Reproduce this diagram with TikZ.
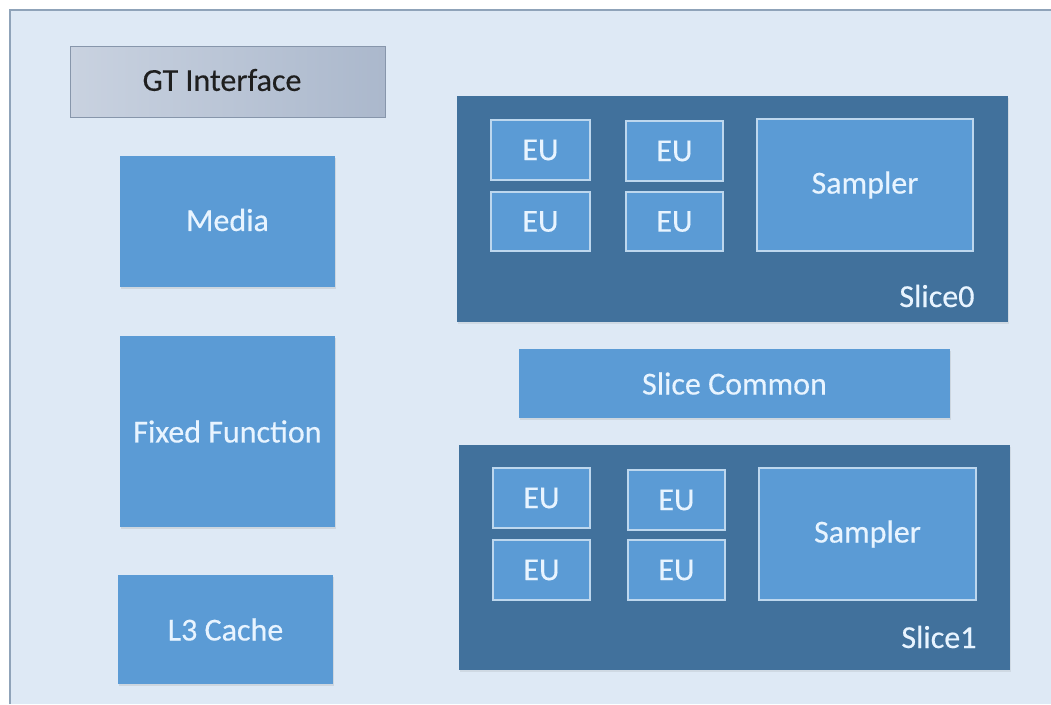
\documentclass[tikz,border=0pt]{standalone}
\usepackage{fontspec}
\setmainfont{Carlito}
\newfontfamily\lblfont{Carlito}[FakeBold=0.35]
\usetikzlibrary{shadows}
\definecolor{bgpanel}{HTML}{DEE9F5}
\definecolor{panelline}{HTML}{8FA3B9}
\definecolor{blockblue}{HTML}{5B9BD5}
\definecolor{slicedark}{HTML}{41719C}
\definecolor{eurim}{HTML}{BDD7EE}
\definecolor{lighttext}{HTML}{E8F4FF}
\definecolor{gtlight}{HTML}{C9D2E0}
\definecolor{gtdark}{HTML}{ABB8CC}
\definecolor{gtline}{HTML}{8796AB}
\tikzset{
  x=1pt, y=-1pt,
  lbl/.style={font=\lblfont\fontsize{32}{36}\selectfont, text=lighttext},
  block/.style={fill=blockblue, draw=none,
    drop shadow={opacity=0.18, shadow xshift=1pt, shadow yshift=-2pt}},
  slicebox/.style={fill=slicedark, draw=none,
    drop shadow={opacity=0.15, shadow xshift=1pt, shadow yshift=-2pt}},
  eubox/.style={fill=blockblue, draw=eurim, line width=1.2pt},
}
\begin{document}
\begin{tikzpicture}
  % page and panel
  \useasboundingbox (0,0) rectangle (1051,704);
  \fill[white] (0,0) rectangle (1051,704);
  \fill[bgpanel] (10,10) rectangle (1051,704);
  \draw[panelline, line width=1.3pt] (10,704) -- (10,10) -- (1051,10);

  % GT interface bar
  \path[left color=gtlight, right color=gtdark, draw=gtline, line width=0.8pt]
    (70,46) rectangle (385,117);
  \node[lbl, text=black!88] (gt) at (222,80) {GT Interface};

  % left column of unslice blocks
  \path[block] (120,156) rectangle (335,287);
  \node[lbl] (media) at (227.5,220) {Media};
  \path[block] (120,336) rectangle (335,527);
  \node[lbl] (ff) at (227.5,431.5) {Fixed Function};
  \path[block] (118,575) rectangle (333,684);
  \node[lbl] (l3) at (225.5,629.5) {L3 Cache};

  % slice 0
  \path[slicebox] (457,96) rectangle (1008,322);
  \draw[eubox] (491,120) rectangle (590,180);
  \node[lbl] (eu00) at (540.5,150) {EU};
  \draw[eubox] (491,192) rectangle (590,251);
  \node[lbl] (eu01) at (540.5,221.5) {EU};
  \draw[eubox] (626,121) rectangle (723,181);
  \node[lbl] (eu02) at (674.5,151) {EU};
  \draw[eubox] (626,192) rectangle (723,251);
  \node[lbl] (eu03) at (674.5,221.5) {EU};
  \draw[eubox] (757,119) rectangle (973,251);
  \node[lbl] (samp0) at (865,185) {Sampler};
  \node[lbl, anchor=east] (s0) at (978,296) {Slice0};

  % slice common
  \path[block] (519,349) rectangle (950,418);
  \node[lbl] (common) at (734.5,383.5) {Slice Common};

  % slice 1
  \path[slicebox] (459,445) rectangle (1010,670);
  \draw[eubox] (493,468) rectangle (590,528);
  \node[lbl] (eu10) at (541.5,498) {EU};
  \draw[eubox] (493,540) rectangle (590,600);
  \node[lbl] (eu11) at (541.5,570) {EU};
  \draw[eubox] (628,470) rectangle (725,530);
  \node[lbl] (eu12) at (676.5,500) {EU};
  \draw[eubox] (628,540) rectangle (725,600);
  \node[lbl] (eu13) at (676.5,570) {EU};
  \draw[eubox] (759,468) rectangle (976,600);
  \node[lbl] (samp1) at (867.5,534) {Sampler};
  \node[lbl, anchor=east] (s1) at (980,637) {Slice1};
\end{tikzpicture}
\end{document}
